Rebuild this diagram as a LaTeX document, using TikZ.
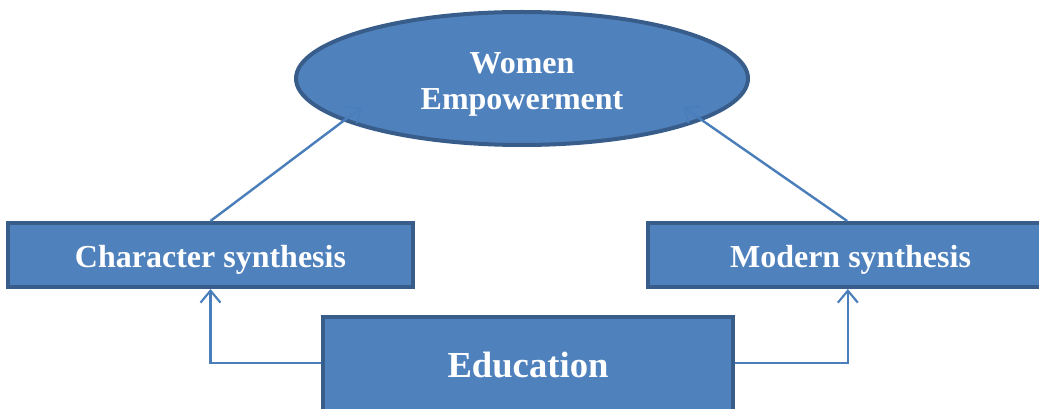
\documentclass[tikz,border=0pt]{standalone}
\usepackage{fontspec}
\setmainfont{Liberation Serif}
\usetikzlibrary{shapes,arrows.meta,calc,positioning}

\definecolor{boxfill}{HTML}{4F81BD}
\definecolor{boxline}{HTML}{385D8A}
\definecolor{arrline}{HTML}{4A7EBB}

\begin{document}
\begin{tikzpicture}[x=0.75pt,y=-0.75pt,
  block/.style={draw=boxline,fill=boxfill,line width=3pt,rectangle,text=white,
    font=\fontsize{24}{27}\selectfont\bfseries,inner sep=0pt,
    minimum width=303.75pt,minimum height=48pt},
  side/.style={block,text height=19.5pt,text depth=0pt},
  goal/.style={block,ellipse,align=center,minimum width=339pt,minimum height=99.75pt,
    text height=47.2pt,text depth=0pt},
  link/.style={draw=arrline,line width=1.8pt,-{Straight Barb[length=9pt,width=15pt,line width=1.6pt]}}]

        \useasboundingbox (0,0) rectangle (1039,409);
        \clip (0,0) rectangle (1039,409);

        \node (WE) [goal] at (522,78.5) {Women\\Empowerment};
        \node (CS) [side] at (210.5,255) {Character synthesis};
        \node (MS) [side] at (850.5,255) {Modern synthesis};
        \node (ED) [block,minimum width=307.5pt,minimum height=72pt,
          font=\fontsize{27.5}{30}\selectfont\bfseries] at (528,365) {Education};

        \coordinate (WEl) at ($(WE.center)+(-160,28.5)$);
        \coordinate (WEr) at ($(WE.center)+(161,28.5)$);

        \draw[link] (CS.north) -- (WEl);
        \draw[link] ([xshift=-2.5pt]MS.north) -- (WEr);
        \draw[link] ([yshift=1.5pt]ED.west) -| (CS.south);
        \draw[link] ([yshift=1.5pt]ED.east) -| ([xshift=-2pt]MS.south);
      \end{tikzpicture}
\end{document}
